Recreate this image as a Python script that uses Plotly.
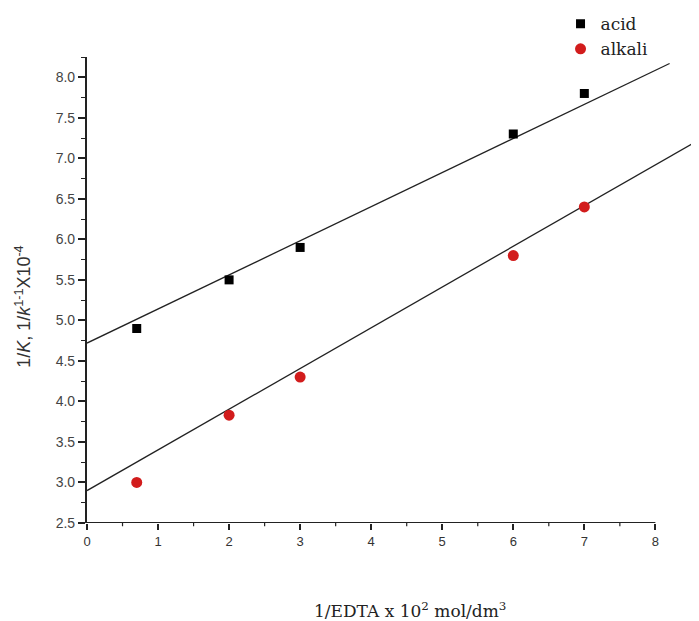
import plotly.graph_objects as go

# Data
edta_x = [0.7, 2, 3, 6, 7]
acid_y = [4.9, 5.5, 5.9, 7.3, 7.8]
alkali_y = [3.0, 3.83, 4.3, 5.8, 6.4]

# Fitted straight lines (end points)
acid_fit_x = [0, 8.2]
acid_fit_y = [4.72, 8.17]
alkali_fit_x = [0, 8.6]
alkali_fit_y = [2.9, 7.22]

x_ticks = [0, 1, 2, 3, 4, 5, 6, 7, 8]
x_tick_labels = ["0", "1", "2", "3", "4", "5", "6", "7", "8"]
x_minor = [0.5, 1.5, 2.5, 3.5, 4.5, 5.5, 6.5, 7.5]
y_ticks = [2.5, 3.0, 3.5, 4.0, 4.5, 5.0, 5.5, 6.0, 6.5, 7.0, 7.5, 8.0]
y_tick_labels = ["2.5", "3.0", "3.5", "4.0", "4.5", "5.0", "5.5", "6.0", "6.5", "7.0", "7.5", "8.0"]

fig = go.Figure()
fig.add_trace(go.Scatter(x=acid_fit_x, y=acid_fit_y, mode="lines",
                         line=dict(color="#222", width=1.3), showlegend=False, hoverinfo="skip"))
fig.add_trace(go.Scatter(x=alkali_fit_x, y=alkali_fit_y, mode="lines",
                         line=dict(color="#222", width=1.3), showlegend=False, hoverinfo="skip"))
fig.add_trace(go.Scatter(x=edta_x, y=acid_y, mode="markers", name="acid", legendgroup="a",
                         marker=dict(symbol="square", size=9, color="black")))
fig.add_trace(go.Scatter(x=edta_x, y=alkali_y, mode="markers", name="alkali", legendgroup="b",
                         marker=dict(symbol="circle", size=11, color="#d21c1c")))

fig.update_layout(
    width=699, height=621,
    margin=dict(l=79, r=9, t=49, b=106, autoexpand=False),
    plot_bgcolor="white", paper_bgcolor="white",
    font=dict(family="Arial, Liberation Sans", size=13, color="#333"),
    legend=dict(x=0.775, y=1.109, xanchor="left", yanchor="top",
                font=dict(family="DejaVu Serif", size=17, color="#222"),
                bgcolor="rgba(0,0,0,0)", itemwidth=30, tracegroupgap=0),
)
fig.update_xaxes(range=[0, 8.6], tickmode="array", tickvals=x_ticks, ticktext=x_tick_labels,
                 ticks="outside", ticklen=6, tickwidth=1.5, tickcolor="#222",
                 ticklabeloverflow="allow",
                 showline=False, showgrid=False, zeroline=False,
                 tickfont=dict(size=13, color="#333"))
fig.update_yaxes(range=[2.5, 8.25], tickmode="array", tickvals=y_ticks, ticktext=y_tick_labels,
                 ticks="outside", ticklen=7, tickwidth=1.6, tickcolor="#222",
                 minor=dict(tickvals=[v + 0.25 for v in y_ticks], ticks="outside",
                            ticklen=4, tickwidth=1.2, tickcolor="#222"),
                 showline=True, linecolor="#222", linewidth=2.2,
                 showgrid=False, zeroline=False,
                 tickfont=dict(size=14, color="#444"))
# x axis line only up to x = 8
fig.add_shape(type="line", xref="x", yref="y", x0=0, x1=8, y0=2.5, y1=2.5,
              line=dict(color="#222", width=2.2))
# minor ticks of the x axis (half-unit positions)
for xm in x_minor:
    fig.add_shape(type="line", xref="x", yref="paper", x0=xm, x1=xm, y0=0, y1=-0.007,
                  line=dict(color="#222", width=1.2))

fig.add_annotation(text="1/EDTA x 10<sup>2</sup> mol/dm<sup>3</sup>", xref="paper", yref="paper",
                   x=0.529, y=-0.187, xanchor="center", yanchor="middle", showarrow=False,
                   font=dict(family="DejaVu Serif", size=17, color="#222"))
fig.add_annotation(text="1/<i>K</i>, 1/<i>k</i><sup>1-1</sup>X10<sup>-4</sup>", xref="paper", yref="paper",
                   x=-0.105, y=0.4635, xanchor="center", yanchor="middle", showarrow=False,
                   textangle=-90,
                   font=dict(family="Arial, Liberation Sans", size=18, color="#333"))

fig.write_html("out.html")
